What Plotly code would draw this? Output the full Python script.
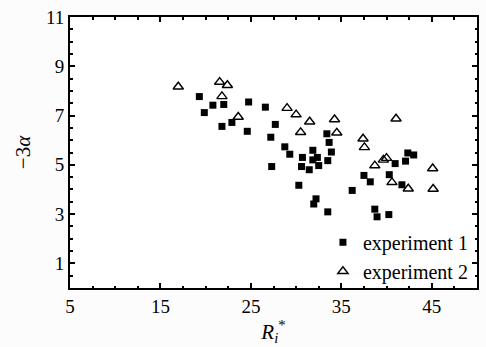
import plotly.graph_objects as go

exp1_x = [19.3, 19.85, 20.8, 22.0, 21.8, 22.9, 24.75, 24.6, 26.6, 27.7, 27.2, 27.3,
          28.75, 29.3, 30.7, 30.6, 30.3, 31.45, 31.85, 31.85, 32.35, 32.5, 32.2, 31.95,
          33.4, 33.65, 33.9, 33.5, 33.5, 36.2, 37.5, 38.2, 38.7, 38.95, 40.25, 40.3,
          40.95, 41.7, 42.1, 42.35, 43.0]
exp1_y = [7.77, 7.12, 7.42, 7.45, 6.56, 6.72, 7.55, 6.36, 7.34, 6.64, 6.12, 4.93,
          5.73, 5.43, 5.30, 4.93, 4.17, 4.80, 5.59, 5.20, 5.30, 4.97, 3.62, 3.41,
          6.26, 5.91, 5.52, 5.17, 3.09, 3.96, 4.57, 4.31, 3.20, 2.89, 2.98, 4.60,
          5.05, 4.19, 5.15, 5.48, 5.40]

exp2_x = [16.97, 21.55, 22.4, 21.8, 23.6, 29.0, 30.0, 31.5, 30.5, 34.25, 34.5,
          37.4, 37.55, 41.05, 38.7, 39.65, 40.0, 40.6, 42.4, 45.1, 45.15]
exp2_y = [8.17, 8.36, 8.23, 7.78, 6.94, 7.30, 7.04, 6.75, 6.32, 6.84, 6.30,
          6.06, 5.71, 6.87, 4.97, 5.20, 5.27, 4.29, 4.03, 4.85, 4.02]

x_range = [5, 50]
y_range = [0, 11]
x_labeled_ticks = [5, 15, 25, 35, 45]
x_unlabeled_ticks = [10, 20, 30, 40, 50]
y_labeled_ticks = [1, 3, 5, 7, 9, 11]
y_unlabeled_ticks = [0, 2, 4, 6, 8, 10]

font_family = "Liberation Serif, Times New Roman, serif"

fig = go.Figure()
fig.add_trace(go.Scatter(
    x=exp1_x, y=exp1_y, mode="markers", name="experiment 1",
    marker=dict(symbol="square", size=7, color="black", line=dict(width=0)),
))
fig.add_trace(go.Scatter(
    x=exp2_x, y=exp2_y, mode="markers", name="experiment 2",
    marker=dict(symbol="triangle-up-open", size=9, color="black", line=dict(width=1.4, color="black")),
))

axis_common = dict(
    showgrid=False, zeroline=False, showline=True, linecolor="black", linewidth=2,
    mirror="allticks", ticks="inside", ticklen=5, tickwidth=1.5, tickcolor="black",
    tickfont=dict(family=font_family, size=19, color="black"),
)

fig.update_layout(
    xaxis=dict(
        range=x_range, tickmode="array", tickvals=x_labeled_ticks,
        minor=dict(dtick=2.5, tick0=5, ticks="inside", ticklen=2.5, tickwidth=1.5, tickcolor="black", showgrid=False),
        title=dict(text="<i>R</i><sub><i>i</i></sub><sup>*</sup>", font=dict(family=font_family, size=21, color="black"), standoff=4),
        **axis_common,
    ),
    yaxis=dict(
        range=y_range, tickmode="array", tickvals=y_labeled_ticks,
        minor=dict(dtick=0.5, tick0=0, ticks="inside", ticklen=2.5, tickwidth=1.5, tickcolor="black", showgrid=False),
        title=dict(text="−3<i>α</i>", font=dict(family=font_family, size=21, color="black"), standoff=10),
        **axis_common,
    ),
    xaxis2=dict(
        range=x_range, overlaying="x", side="bottom", anchor="y", tickmode="array",
        tickvals=x_unlabeled_ticks, showticklabels=False, showgrid=False, zeroline=False,
        showline=True, linecolor="black", linewidth=2, mirror="allticks",
        ticks="inside", ticklen=5, tickwidth=1.5, tickcolor="black",
    ),
    yaxis2=dict(
        range=y_range, overlaying="y", side="left", anchor="x", tickmode="array",
        tickvals=y_unlabeled_ticks, showticklabels=False, showgrid=False, zeroline=False,
        showline=True, linecolor="black", linewidth=2, mirror="allticks",
        ticks="inside", ticklen=5, tickwidth=1.5, tickcolor="black",
    ),
)

fig.update_layout(
    width=486, height=347,
    margin=dict(l=70, r=7, t=15, b=59),
    paper_bgcolor="#fcfcfc", plot_bgcolor="#ffffff",
    showlegend=True,
    legend=dict(
        x=0.99, y=-0.01, xanchor="right", yanchor="bottom",
        bgcolor="rgba(0,0,0,0)", borderwidth=0,
        font=dict(family=font_family, size=20, color="black"),
        itemwidth=30, tracegroupgap=0,
    ),
)

fig.write_html("out.html")
